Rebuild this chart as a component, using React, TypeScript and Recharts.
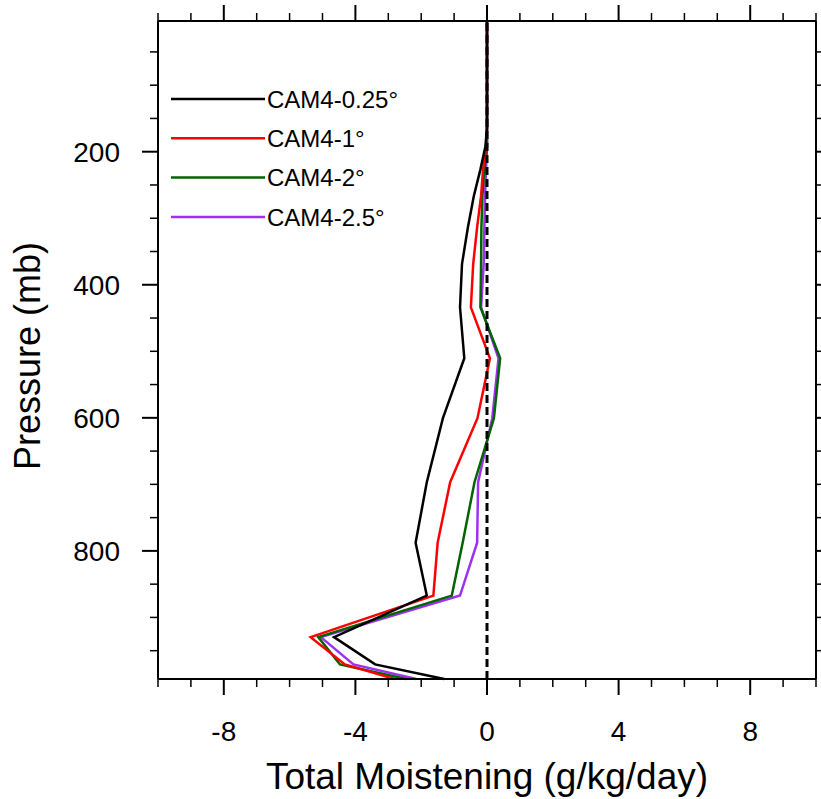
import React from 'react';
import { LineChart, Line, XAxis, YAxis, ReferenceLine, Legend, Label } from 'recharts';

// CAM4 model levels (mb) and moistening profiles (g/kg/day)
const levels = [3.54, 7.39, 13.97, 23.94, 37.23, 53.11, 70.06, 85.44, 100.51, 118.25, 139.12, 163.66, 192.54, 226.51, 266.48, 313.5, 368.82, 433.9, 510.46, 600.52, 696.8, 787.7, 867.16, 929.65, 970.55, 992.56];

const cam025 = [0, 0, 0, 0, 0, 0, 0, 0, 0, 0, 0, 0, -0.05, -0.2, -0.4, -0.58, -0.76, -0.82, -0.69, -1.34, -1.83, -2.17, -1.83, -4.65, -3.4, -1.3];
const cam1 = [0, 0, 0, 0, 0, 0, 0, 0, 0, 0, 0, 0, -0.02, -0.12, -0.18, -0.3, -0.42, -0.49, 0.09, -0.29, -1.12, -1.5, -1.63, -5.36, -4.32, -2.8];
const cam2 = [0, 0, 0, 0, 0, 0, 0, 0, 0, 0, 0, 0, 0, -0.08, -0.14, -0.17, -0.18, -0.2, 0.4, 0.21, -0.38, -0.74, -1.07, -5.13, -4.47, -2.45];
const cam25 = [0, 0, 0, 0, 0, 0, 0, 0, 0, 0, 0, 0, 0, -0.03, -0.06, -0.08, -0.1, -0.18, 0.35, 0.16, -0.27, -0.3, -0.82, -5.05, -4.06, -2.15];

const seriesNames = ['CAM4-0.25°', 'CAM4-1°', 'CAM4-2°', 'CAM4-2.5°'];
const seriesKeys = ['c025', 'c1', 'c2', 'c25'];
const seriesColors = ['#000000', '#ff0000', '#006400', '#a030f0'];

const xTicks = [-10, -9, -8, -7, -6, -5, -4, -3, -2, -1, 0, 1, 2, 3, 4, 5, 6, 7, 8, 9, 10];
const xLabels = [-8, -4, 0, 4, 8];
const pTicks = [50, 100, 150, 200, 250, 300, 350, 400, 450, 500, 550, 600, 650, 700, 750, 800, 850, 900, 950];
const pLabels = [200, 400, 600, 800];

const rows = levels.map((p, i) => ({
  p,
  c025: cam025[i],
  c1: cam1[i],
  c2: cam2[i],
  c25: cam25[i],
}));

const W = 821;
const H = 799;
const LEFT = 158;
const TOP = 21;
const RIGHT = 5;
const BOTTOM = 120;
const PLOT_H = H - TOP - BOTTOM;
const FONT = '"Liberation Sans", Arial, Helvetica, sans-serif';

// bottom axis ticks; the matching top-frame ticks are drawn here too
const XTick = (props: any) => {
  const { x, y, payload } = props;
  const v = payload.value;
  const major = xLabels.includes(v);
  const len = major ? 16 : 8;
  const sw = major ? 2 : 1.5;
  const yTop = y - PLOT_H;
  return (
    <g>
      <line x1={x} y1={y} x2={x} y2={y + len} stroke="#000" strokeWidth={sw} />
      <line x1={x} y1={yTop} x2={x} y2={yTop - len} stroke="#000" strokeWidth={sw} />
      {major && (
        <text x={x} y={y + 62} textAnchor="middle" fontFamily={FONT} fontSize={28} fill="#000">
          {v}
        </text>
      )}
    </g>
  );
};

const makeYTick = (dir: number, showLabel: boolean) => (props: any) => {
  const { x, y, payload } = props;
  const v = payload.value;
  const major = pLabels.includes(v);
  const len = major ? 16 : 8;
  return (
    <g>
      <line x1={x} y1={y} x2={x + dir * len} y2={y} stroke="#000" strokeWidth={major ? 2 : 1.5} />
      {showLabel && major && (
        <text x={x - 38} y={y} dy="0.36em" textAnchor="end" fontFamily={FONT} fontSize={28} fill="#000">
          {v}
        </text>
      )}
    </g>
  );
};

const LegendBox = () => (
  <svg width={260} height={160}>
    {seriesNames.map((name, i) => {
      const cy = 19 + i * 39.3;
      return (
        <g key={name}>
          <line x1={11} y1={cy} x2={105} y2={cy} stroke={seriesColors[i]} strokeWidth={2.5} />
          <text x={107} y={cy} dy="0.36em" fontFamily={FONT} fontSize={24} fill="#000">
            {name}
          </text>
        </g>
      );
    })}
  </svg>
);

export default function App() {
  const axisLine = { stroke: '#000', strokeWidth: 2 };
  return (
    <div style={{ position: 'absolute', left: 0, top: 0, width: W, height: H, background: '#fff' }}>
      <LineChart width={W} height={H} data={rows} layout="vertical" margin={{ top: 0, right: 0, bottom: 0, left: 0 }}>
        <XAxis
          type="number"
          domain={[-10, 10]}
          ticks={xTicks}
          interval={0}
          height={BOTTOM}
          axisLine={axisLine}
          tickLine={false}
          tickSize={0}
          tickMargin={0}
          tick={XTick}
        >
          <Label
            content={() => (
              <text x={LEFT + 329} y={789} textAnchor="middle" fontFamily={FONT} fontSize={37} fill="#000">
                Total Moistening (g/kg/day)
              </text>
            )}
          />
        </XAxis>
        <XAxis
          xAxisId="top"
          orientation="top"
          type="number"
          domain={[-10, 10]}
          height={TOP}
          axisLine={axisLine}
          tickLine={false}
          tick={false}
        />
        <YAxis
          dataKey="p"
          type="number"
          domain={[3.54, 992.56]}
          ticks={pTicks}
          interval={0}
          width={LEFT}
          axisLine={axisLine}
          tickLine={false}
          tickSize={0}
          tickMargin={0}
          tick={makeYTick(-1, true)}
        >
          <Label
            content={() => (
              <text
                x={40}
                y={TOP + 335}
                transform={`rotate(-90 40 ${TOP + 335})`}
                textAnchor="middle"
                fontFamily={FONT}
                fontSize={36}
                fill="#000"
              >
                Pressure (mb)
              </text>
            )}
          />
        </YAxis>
        <YAxis
          yAxisId="right"
          orientation="right"
          dataKey="p"
          type="number"
          domain={[3.54, 992.56]}
          ticks={pTicks}
          interval={0}
          width={RIGHT}
          axisLine={axisLine}
          tickLine={false}
          tickSize={0}
          tickMargin={0}
          tick={makeYTick(1, false)}
        />
        {[3, 2, 1, 0].map((i) => (
          <Line
            key={seriesKeys[i]}
            type="linear"
            dataKey={seriesKeys[i]}
            name={seriesNames[i]}
            stroke={seriesColors[i]}
            strokeWidth={2.5}
            dot={false}
            activeDot={false}
            isAnimationActive={false}
          />
        ))}
        <ReferenceLine x={0} stroke="#000" strokeWidth={3} strokeDasharray="8 4" />
        <Legend
          layout="vertical"
          align="center"
          verticalAlign="middle"
          wrapperStyle={{ left: 160, top: 80, width: 260, height: 160 }}
          content={() => <LegendBox />}
        />
      </LineChart>
    </div>
  );
}
